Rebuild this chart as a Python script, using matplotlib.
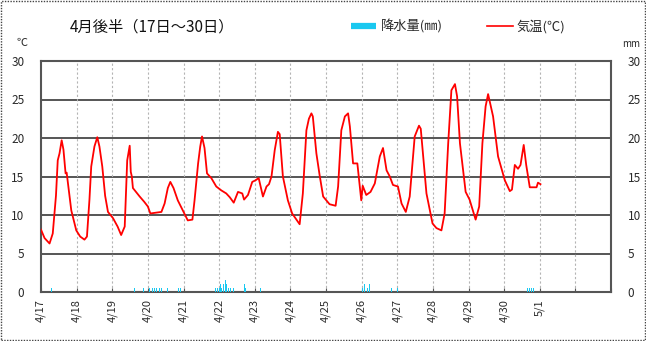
"""
4月後半の気温と降水量（1時間値）
"""
import matplotlib
matplotlib.use("Agg")
import matplotlib.pyplot as plt
from matplotlib.lines import Line2D
from matplotlib.patches import Rectangle

plt.rcParams['font.family'] = ['Noto Sans CJK JP', 'DejaVu Sans']

# 日付ラベル (4/17 0時 = 0 日)
tick_labels = ["4/17", "4/18", "4/19", "4/20", "4/21", "4/22", "4/23", "4/24",
               "4/25", "4/26", "4/27", "4/28", "4/29", "4/30", "5/1"]

# 気温 (経過日, ℃) 図から読み取り
temp_day = [0.00, 0.10, 0.24, 0.33, 0.42, 0.47, 0.52, 0.58, 0.63, 0.69, 0.72, 0.85, 0.99,
            1.10, 1.22, 1.29, 1.36, 1.41, 1.50, 1.58, 1.64, 1.72, 1.80, 1.88, 2.02, 2.15,
            2.25, 2.35, 2.42, 2.49, 2.52, 2.55, 2.58, 2.77, 2.90, 3.00, 3.07, 3.38, 3.47,
            3.56, 3.63, 3.72, 3.84, 3.98, 4.12, 4.25, 4.31, 4.41, 4.47, 4.52, 4.59, 4.66,
            4.78, 4.92, 5.06, 5.20, 5.30, 5.41, 5.53, 5.65, 5.70, 5.81, 5.93, 6.02, 6.11,
            6.23, 6.33, 6.40, 6.47, 6.56, 6.65, 6.70, 6.79, 6.93, 7.05, 7.17, 7.26, 7.35,
            7.45, 7.52, 7.59, 7.63, 7.73, 7.82, 7.92, 8.10, 8.27, 8.34, 8.43, 8.53, 8.62,
            8.67, 8.76, 8.88, 8.99, 9.03, 9.13, 9.25, 9.37, 9.51, 9.60, 9.70, 9.79, 9.88,
            10.02, 10.12, 10.24, 10.35, 10.49, 10.61, 10.66, 10.82, 10.99, 11.10, 11.24,
            11.33, 11.43, 11.52, 11.62, 11.68, 11.76, 11.92, 12.03, 12.20, 12.30, 12.39,
            12.48, 12.55, 12.69, 12.83, 13.02, 13.16, 13.22, 13.30, 13.39, 13.46, 13.55,
            13.62, 13.72, 13.91, 13.95, 14.02]
temp_c = [8.1, 7.0, 6.3, 7.6, 12.5, 17.1, 18.0, 19.7, 18.5, 15.4, 15.5, 10.6, 8.0,
          7.2, 6.8, 7.2, 12.0, 16.3, 18.9, 20.1, 18.9, 16.3, 12.5, 10.4, 9.6, 8.5,
          7.4, 8.5, 17.1, 19.0, 15.6, 15.0, 13.5, 12.4, 11.7, 11.1, 10.2, 10.4, 11.5,
          13.5, 14.3, 13.5, 11.9, 10.6, 9.3, 9.4, 11.9, 16.7, 18.9, 20.2, 18.7, 15.4,
          14.8, 13.7, 13.2, 12.8, 12.3, 11.6, 13.0, 12.8, 12.0, 12.6, 14.3, 14.5, 14.8,
          12.4, 13.7, 14.0, 15.0, 18.4, 20.8, 20.5, 15.0, 11.9, 10.2, 9.4, 8.8, 12.8,
          21.0, 22.5, 23.2, 22.8, 18.0, 15.2, 12.4, 11.4, 11.2, 13.7, 21.0, 22.8, 23.2,
          21.5, 16.7, 16.7, 11.9, 13.8, 12.6, 13.0, 14.1, 17.6, 18.7, 15.8, 15.0, 13.9,
          13.7, 11.5, 10.4, 12.4, 20.2, 21.6, 21.2, 12.8, 8.9, 8.3, 8.0,
          10.2, 19.3, 26.2, 27.0, 25.4, 19.3, 13.0, 12.0, 9.4, 11.1, 19.3,
          24.1, 25.7, 22.8, 17.6, 14.5, 13.1, 13.3, 16.5, 16.0, 16.5, 19.1,
          16.5, 13.6, 13.6, 14.2, 14.0]

# 降水量 (経過日, mm)
rain_day = [0.29, 2.63, 2.88, 3.05, 3.12, 3.18, 3.25, 3.32, 3.38, 3.55, 3.87, 3.91,
            4.91, 4.95, 5.00, 5.04, 5.08, 5.12, 5.18, 5.22, 5.27, 5.33, 5.39, 5.72, 5.74,
            6.17, 9.02, 9.08, 9.16, 9.21, 9.84, 10.02, 13.65, 13.70, 13.76, 13.82]
rain_mm = [0.5, 0.5, 0.5, 0.5, 0.5, 0.5, 0.5, 0.5, 0.5, 0.5, 0.5, 0.5,
           0.5, 0.5, 0.5, 1.0, 0.5, 1.0, 1.5, 1.0, 0.5, 0.5, 0.5, 1.0, 0.5,
           0.5, 0.5, 1.0, 0.5, 1.0, 0.5, 0.5, 0.5, 0.5, 0.5, 0.5]

RED = "#ff0000"
CYAN = "#19c8f0"
GRID_DARK = "#555555"
TXT = "#2a2a2a"

fig = plt.figure(figsize=(6.46, 3.41), dpi=100)
ax = fig.add_axes([41 / 646, 1 - 292 / 341, 570 / 646, 231 / 341])

ax.bar(rain_day, rain_mm, width=0.028, color=CYAN, align="center", zorder=3)
ax.plot(temp_day, temp_c, color=RED, lw=1.3, zorder=4)

ax.set_xlim(0, 16)
ax.set_ylim(0, 30)
ax.set_yticks(range(0, 31, 5))
ax.set_xticks(range(0, 17))
ax.set_xticklabels(tick_labels + ["", ""], rotation=90, fontsize=8, color=TXT)
ax.tick_params(axis="x", direction="in", length=3, color=GRID_DARK, pad=5)
ax.tick_params(axis="y", length=0, labelsize=8.5, labelcolor=TXT, pad=12,
               labelright=True)

# グリッド
for y in range(5, 30, 5):
    ax.axhline(y, color=GRID_DARK, lw=1.4, zorder=1)
for d in range(1, 16):
    ax.axvline(d, color="#b4b4b4", lw=0.8, ls=(0, (2, 2)), zorder=1)
for s in ax.spines.values():
    s.set_color(GRID_DARK)
    s.set_linewidth(1.5)

# タイトル・単位
fig.text(70 / 646, 1 - 27 / 341, "4月後半（17日～30日）", fontsize=11,
         va="center", ha="left", color="#111111")
fig.text(22 / 646, 1 - 43 / 341, "℃", fontsize=8, ha="center", va="center", color=TXT)
fig.text(631 / 646, 1 - 44 / 341, "mm", fontsize=7, ha="center", va="center", color=TXT)

# 凡例
fig.add_artist(Line2D([351 / 646, 376 / 646], [1 - 26 / 341] * 2, color=CYAN,
                      lw=4.5, solid_capstyle="butt"))
fig.text(381 / 646, 1 - 27 / 341, "降水量(㎜)", fontsize=9.5, va="center", color=TXT)
fig.add_artist(Line2D([487 / 646, 513 / 646], [1 - 26 / 341] * 2, color=RED, lw=1.2))
fig.text(516 / 646, 1 - 27 / 341, "気温(℃)", fontsize=9.5, va="center", color=TXT)

# 外枠
fig.add_artist(Rectangle((0.001, 0.002), 0.997, 0.995, transform=fig.transFigure,
                         fill=False, ec="#444444", lw=1.0, ls=(0, (1, 1))))

fig.savefig("out.png", dpi=100)
